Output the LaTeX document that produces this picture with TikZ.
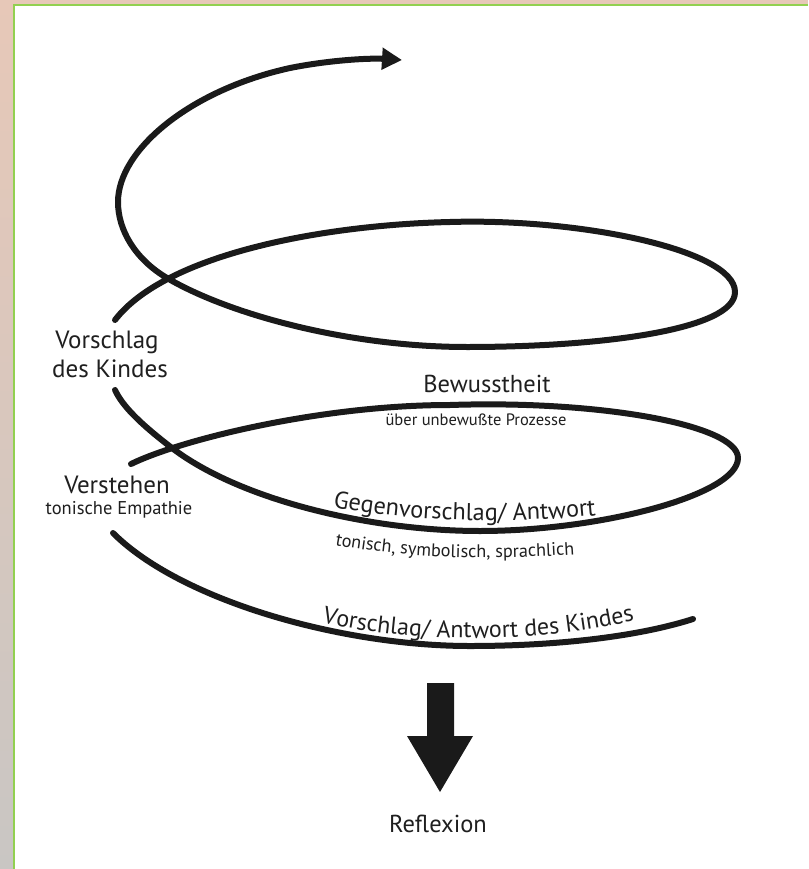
\documentclass[tikz,border=0pt]{standalone}
\usepackage{fontspec}
\setmainfont{PT Sans}
\usetikzlibrary{arrows.meta,decorations.text}
\definecolor{ink}{HTML}{1A1A1A}
\definecolor{txt}{HTML}{1F1F1F}
\definecolor{framegreen}{HTML}{92D050}
\definecolor{stripA}{HTML}{E7C8B8}
\definecolor{stripB}{HTML}{C9C6C3}
\begin{document}
\begin{tikzpicture}[x=1pt,y=-1pt,
  spiral/.style={draw=ink, line width=6pt, line cap=round, line join=round},
  big/.style={font=\fontsize{24.5}{28}\selectfont, text=txt, inner sep=0pt},
  mid/.style={font=\fontsize{25}{29}\selectfont, text=txt, inner sep=0pt},
  small/.style={font=\fontsize{16.5}{19}\selectfont, text=txt, inner sep=0pt},
  smallb/.style={font=\fontsize{18.5}{21}\selectfont, text=txt, inner sep=0pt},
  curvedtext/.style={decorate, decoration={text along path, text color=txt, text={#1}}}
]
% canvas and frame
\useasboundingbox (0,0) rectangle (808,869);
\fill[white] (0,0) rectangle (808,869);
\shade[top color=stripA, bottom color=stripB] (0,0) rectangle (13,869);
\fill[stripA] (13,0) rectangle (808,4.5);
\draw[framegreen, line width=1.6pt] (13.8,869) -- (13.8,5.3) -- (808,5.3);

% named points of the spiral
\coordinate (u0) at (115,320);
\coordinate (utop) at (450,222);
\coordinate (uright) at (735,292);
\coordinate (ubot) at (467,347);
\coordinate (ux) at (167,278);
\coordinate (uleft) at (118,202);
\coordinate (uarc) at (290,68);
\coordinate (tip) at (402,60);
\coordinate (m0) at (131,464);
\coordinate (mtop) at (450,405);
\coordinate (mright) at (738,458);
\coordinate (mbot) at (480,531);
\coordinate (mx) at (172,448);
\coordinate (m1) at (115,390);
\coordinate (l0) at (113,533);
\coordinate (lbot) at (470,646);
\coordinate (l1) at (693,619);

% upper turn of the spiral, ending with the arrow
\draw[spiral, -{Triangle[length=20pt,width=21pt]}]
  (u0) .. controls (165,255) and (320,225) .. (utop)
       .. controls (580,218) and (735,250) .. (uright)
       .. controls (735,330) and (600,347) .. (ubot)
       .. controls (350,347) and (230,315) .. (ux)
       .. controls (135,259) and (118,230) .. (uleft)
       .. controls (118,150) and (190,90) .. (uarc)
       .. controls (330,60) and (370,58) .. (tip);

% middle turn
\draw[spiral]
  (m0) .. controls (180,440) and (320,405) .. (mtop)
       .. controls (600,400) and (738,425) .. (mright)
       .. controls (738,495) and (600,531) .. (mbot)
       .. controls (370,531) and (240,500) .. (mx)
       .. controls (138,422) and (122,405) .. (m1);

% lowest turn
\draw[spiral]
  (l0) .. controls (180,600) and (340,646) .. (lbot)
       .. controls (560,646) and (640,636) .. (l1);

% labels
\node[mid, anchor=base] (vk1) at (107,348) {Vorschlag};
\node[mid, anchor=base] (vk2) at (110,377) {des Kindes};
\node[mid, anchor=base] (ver) at (117,493) {Verstehen};
\node[smallb, anchor=base] (emp) at (119,514) {tonische Empathie};
\node[big, anchor=base] (bew) at (487,392) {Bewusstheit};
\node[small, anchor=base] (unb) at (476,425) {über unbewußte Prozesse};

\path[curvedtext={|\fontsize{24.3}{28}\selectfont|Gegenvorschlag/ Antwort}]
  (333,507) .. controls (400,520) and (500,526) .. (610,514);
\path[curvedtext={|\fontsize{18.2}{21}\selectfont|tonisch, symbolisch, sprachlich}]
  (335,545) .. controls (400,557) and (480,562) .. (600,553);
\path[curvedtext={|\fontsize{24}{28}\selectfont|Vorschlag/ Antwort des Kindes}]
  (322,622) .. controls (400,642) and (540,646) .. (645,618);

% block arrow towards reflection
\node[big, anchor=base] (refl) at (438,832) {Reflexion};
\fill[ink] (427,683) -- (454,683) -- (454,736) -- (473,736) -- (440,792)
  -- (407,736) -- (427,736) -- cycle;
\end{tikzpicture}
\end{document}
